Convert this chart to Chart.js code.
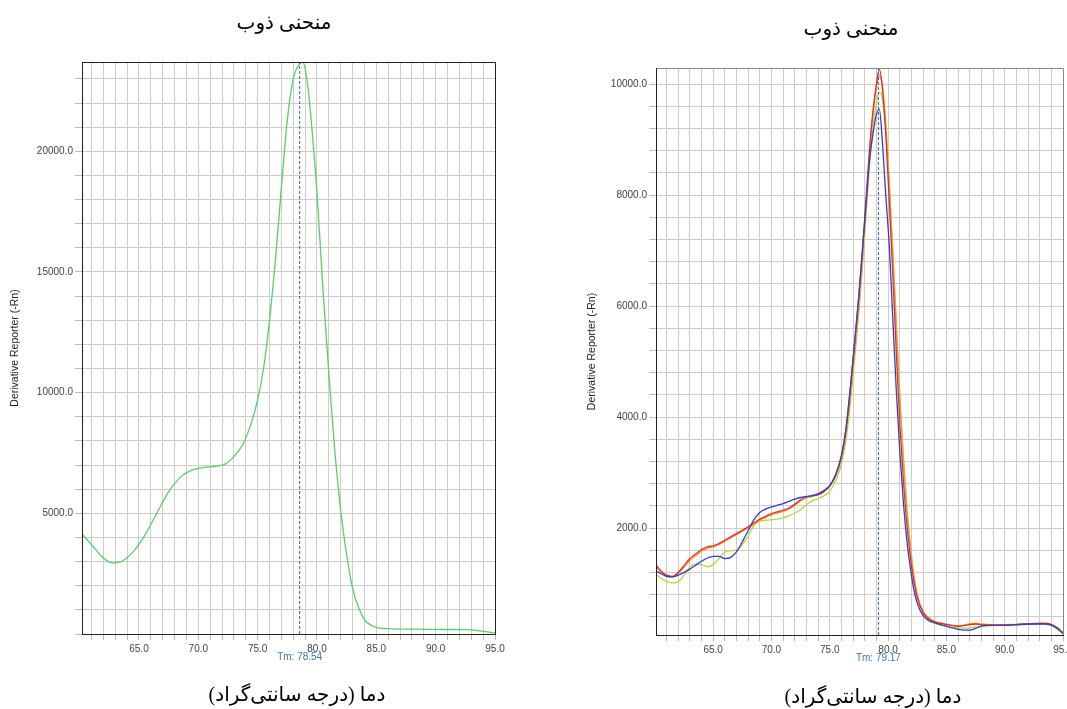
<!DOCTYPE html>
<html><head><meta charset="utf-8">
<script src="https://cdn.jsdelivr.net/npm/chart.js@4"></script>
<style>
html,body{margin:0;padding:0;background:#fff;overflow:hidden;width:1067px;height:709px;}
#leftWrap{position:absolute;left:0;top:0;width:545px;height:709px;}
#rightWrap{position:absolute;left:545px;top:0;width:522px;height:709px;overflow:hidden;}
canvas{display:block;}
</style></head><body>
<div id="leftWrap"><canvas id="c1" width="545" height="709"></canvas></div>
<div id="rightWrap"><canvas id="c2" width="540" height="709"></canvas></div>
<script>
// ---- texts ----
const chartTitle = 'منحنی ذوب';
const xAxisTitle = 'دما (درجه سانتی‌گراد)';
const yAxisTitle = 'Derivative Reporter (-Rn)';

// ---- left panel data ----
const tempsLeft = [60.2, 61.0, 62.0, 62.8, 63.5, 64.5, 65.5, 66.5, 67.5, 68.5,
  69.5, 70.5, 71.5, 72.3, 73.0, 73.8, 74.5, 75.0, 75.5, 76.0,
  76.5, 77.0, 77.5, 78.0, 78.5, 78.8, 79.2, 79.6, 80.0, 80.5,
  81.0, 81.5, 82.0, 82.5, 83.0, 83.5, 84.0, 84.5, 85.0, 86.0,
  88.0, 90.0, 92.0, 93.0, 94.0, 95.0];
const greenValues = [4150, 3700, 3150, 2950, 3000, 3400, 4100, 5000, 5900, 6500,
  6800, 6900, 6950, 7050, 7350, 7900, 8800, 9700, 11000, 13000,
  15500, 18500, 21300, 23000, 23600, 23700, 22800, 20800, 18300, 14300,
  10800, 7600, 5100, 3300, 1900, 1100, 600, 380, 270, 220,
  200, 190, 180, 170, 110, 50];
const tmLeft = 78.54;
const xRangeLeft = [60.2, 95];
const yRangeLeft = [0, 23700];
const yLabelStepLeft = 5000;
const yGridStepLeft = 1000;

// ---- right panel data ----
const tempsRight = [60.1, 60.5, 61.0, 61.5, 62.0, 62.5, 63.0, 63.5, 64.0, 64.5,
  65.0, 65.5, 66.0, 66.5, 67.0, 67.5, 68.0, 68.5, 69.0, 69.5,
  70.0, 70.5, 71.0, 71.5, 72.0, 72.5, 73.0, 73.5, 74.0, 74.5,
  75.0, 75.5, 76.0, 76.4, 76.8, 77.2, 77.5, 77.8, 78.1, 78.4,
  78.7, 79.0, 79.25, 79.5, 79.8, 80.1, 80.4, 80.7, 81.0, 81.3,
  81.6, 81.9, 82.2, 82.5, 83.0, 83.5, 84.0, 84.5, 85.0, 85.5,
  86.0, 86.5, 87.0, 87.5, 88.0, 89.0, 90.0, 91.0, 92.0, 93.0,
  93.5, 94.0, 94.5, 95.0];
const redValues = [1330, 1230, 1150, 1130, 1200, 1320, 1450, 1530, 1610, 1660,
  1680, 1720, 1780, 1840, 1900, 1960, 2020, 2090, 2160, 2210,
  2260, 2290, 2320, 2360, 2430, 2510, 2560, 2590, 2620, 2680,
  2770, 2960, 3300, 3800, 4600, 5500, 6200, 7000, 7900, 8800,
  9500, 10000, 10270, 9950, 9100, 7900, 6600, 5200, 3900, 2900,
  2100, 1500, 1050, 750, 480, 360, 310, 280, 260, 240,
  230, 240, 260, 270, 260, 250, 250, 260, 270, 280,
  280, 260, 200, 110];
const orangeValues = [1300, 1210, 1140, 1120, 1180, 1290, 1410, 1500, 1580, 1630,
  1660, 1700, 1760, 1820, 1880, 1940, 2000, 2070, 2140, 2190,
  2240, 2270, 2300, 2340, 2410, 2490, 2540, 2570, 2600, 2660,
  2750, 2930, 3250, 3700, 4450, 5300, 6000, 6850, 7750, 8700,
  9450, 9950, 10150, 10000, 9300, 8200, 7000, 5700, 4400, 3300,
  2400, 1700, 1150, 800, 500, 380, 320, 290, 270, 250,
  240, 250, 275, 285, 270, 255, 255, 265, 275, 285,
  285, 265, 205, 115];
const yellowValues = [1160, 1100, 1040, 1010, 1030, 1150, 1300, 1350, 1340, 1300,
  1340, 1450, 1570, 1590, 1600, 1700, 1850, 2050, 2120, 2140,
  2150, 2160, 2180, 2220, 2270, 2330, 2420, 2490, 2530, 2580,
  2660, 2850, 3150, 3600, 4300, 5200, 5900, 6700, 7600, 8500,
  9200, 9650, 9850, 9750, 9200, 8200, 7000, 5700, 4400, 3300,
  2400, 1700, 1150, 800, 470, 340, 280, 250, 230, 210,
  200, 195, 200, 220, 230, 240, 240, 250, 260, 270,
  265, 240, 180, 90];
const blueValues = [1220, 1180, 1130, 1120, 1150, 1200, 1260, 1330, 1400, 1460,
  1490, 1490, 1450, 1470, 1570, 1750, 1950, 2150, 2280, 2340,
  2380, 2410, 2440, 2480, 2520, 2550, 2570, 2580, 2600, 2660,
  2760, 2950, 3300, 3800, 4600, 5500, 6200, 7000, 7800, 8600,
  9100, 9450, 9550, 9000, 8000, 7100, 5800, 4500, 3400, 2500,
  1800, 1300, 900, 650, 420, 330, 290, 260, 230, 200,
  175, 160, 160, 190, 230, 250, 250, 260, 270, 270,
  270, 250, 190, 100];
const tmRight = 79.17;
const xRangeRight = [60.1, 95];
const yRangeRight = [72, 10290];
const yLabelStepRight = 2000;
const yGridStepRight = 400;
const xLabelStep = 5;
const xGridStep = 1;

function pts(temps, vals){ return temps.map((t,i)=>({x:t, y:vals[i]})); }
function gridValues(min, max, step){
  const out = [];
  for (let k = Math.ceil(min/step - 1e-9); k*step <= max + 1e-9; k++) out.push({value: k*step});
  return out;
}

const framePlugin = {
  id:'frame',
  afterDatasetsDraw(chart, args, o){
    const {ctx, chartArea:a} = chart;
    ctx.save();
    ctx.lineWidth = 1;
    ctx.strokeStyle = o.tr;
    ctx.beginPath(); ctx.moveTo(a.left, a.top+0.5); ctx.lineTo(a.right+0.5, a.top+0.5); ctx.lineTo(a.right+0.5, a.bottom); ctx.stroke();
    ctx.strokeStyle = o.bl;
    ctx.beginPath(); ctx.moveTo(a.left+0.5, a.top); ctx.lineTo(a.left+0.5, a.bottom+0.5); ctx.lineTo(a.right+1, a.bottom+0.5); ctx.stroke();
    const xs = chart.scales.x;
    ctx.fillStyle = '#3a78b0'; ctx.font = '10px Arial, "Liberation Sans", sans-serif';
    ctx.textAlign = 'center'; ctx.textBaseline = 'middle';
    ctx.fillText('Tm: ' + o.tm.toFixed(2), xs.getPixelForValue(o.tm), a.bottom + 23);
    // Persian titles
    ctx.fillStyle = '#000';
    ctx.font = '20px "Times New Roman", "Liberation Serif", "DejaVu Sans", serif';
    ctx.fillText(chartTitle, o.titleX, o.titleY);
    ctx.fillText(xAxisTitle, o.xTitleX, o.xTitleY);
    ctx.restore();
  }
};

function makeChart(id, cfg){
  const datasets = [{
    data: [{x:cfg.tm, y:cfg.yRange[0]}, {x:cfg.tm, y:cfg.yRange[1]}],
    borderColor:'#2b66ab', borderWidth:1, borderDash:[3,2], pointRadius:0, tension:0
  }].concat(cfg.series.map(s=>({
    data: s.data, borderColor: s.color, borderWidth: 1.3, pointRadius: 0,
    tension: 0.4, cubicInterpolationMode: 'monotone', fill:false
  })));
  return new Chart(document.getElementById(id), {
    type:'line',
    data:{datasets},
    plugins:[framePlugin],
    options:{
      responsive:false, animation:false, devicePixelRatio:1,
      layout:{padding:{left:0, right:cfg.padRight, top:cfg.padTop, bottom:0}},
      plugins:{
        legend:{display:false}, tooltip:{enabled:false}, title:{display:false},
        frame:{tm:cfg.tm, tr:cfg.trColor, bl:'#222',
          titleX:cfg.titleX, titleY:cfg.titleY, xTitleX:cfg.xTitleX, xTitleY:cfg.xTitleY}
      },
      scales:{
        x:{type:'linear', min:cfg.xRange[0], max:cfg.xRange[1],
          afterFit:(s)=>{ s.height = cfg.xHeight; },
          afterBuildTicks:(s)=>{ s.ticks = gridValues(cfg.xRange[0], cfg.xRange[1], xGridStep); },
          ticks:{autoSkip:false, maxRotation:0, minRotation:0,
            padding:3, color:'#444', font:{family:'Arial, "Liberation Sans", sans-serif', size:10},
            callback:(v)=> (Math.abs(v % xLabelStep) < 1e-6 ? Number(v).toFixed(1) : '')},
          grid:{color:'#cdcdcd', lineWidth:1, tickLength:6, tickColor:'#bbbbbb'},
          border:{display:true, color:'#222'},
          title:{display:false}
        },
        y:{type:'linear', min:cfg.yRange[0], max:cfg.yRange[1],
          afterFit:(s)=>{ s.width = cfg.yWidth; },
          afterBuildTicks:(s)=>{ s.ticks = gridValues(cfg.yRange[0], cfg.yRange[1], cfg.yGrid); },
          ticks:{autoSkip:false,
            padding:2, color:'#444', font:{family:'Arial, "Liberation Sans", sans-serif', size:10},
            callback:(v)=> (v > 0 && Math.abs(v % cfg.yLabel) < 1e-6 ? Number(v).toFixed(1) : '')},
          grid:{color:'#cdcdcd', lineWidth:1, tickLength:7, tickColor:'#bbbbbb'},
          border:{display:true, color:'#222'},
          title:{display:true, text:yAxisTitle, color:'#222',
            font:{family:'Arial, "Liberation Sans", sans-serif', size:10.5},
            padding:{top:cfg.yTitlePad, bottom:0}}
        }
      }
    }
  });
}

makeChart('c1', {
  tm: tmLeft, xRange: xRangeLeft, yRange: yRangeLeft, yGrid: yGridStepLeft, yLabel: yLabelStepLeft,
  series: [{data: pts(tempsLeft, greenValues), color:'#58cf6a'}],
  padRight: 50, padTop: 62, xHeight: 75, yWidth: 82, yTitlePad: 8.5, trColor:'#222',
  titleX: 284, titleY: 24, xTitleX: 297, xTitleY: 696
});
makeChart('c2', {
  tm: tmRight, xRange: xRangeRight, yRange: yRangeRight, yGrid: yGridStepRight, yLabel: yLabelStepRight,
  series: [
    {data: pts(tempsRight, blueValues), color:'#2f3fd0'},
    {data: pts(tempsRight, redValues), color:'#e52a2a'},
    {data: pts(tempsRight, orangeValues), color:'#f0a028'},
    {data: pts(tempsRight, yellowValues), color:'#bfd43c'}
  ],
  padRight: 22, padTop: 68, xHeight: 74, yWidth: 111, yTitlePad: 40.5, trColor:'#888',
  titleX: 851 - 545, titleY: 30, xTitleX: 873 - 545, xTitleY: 698
});
</script>
</body></html>
